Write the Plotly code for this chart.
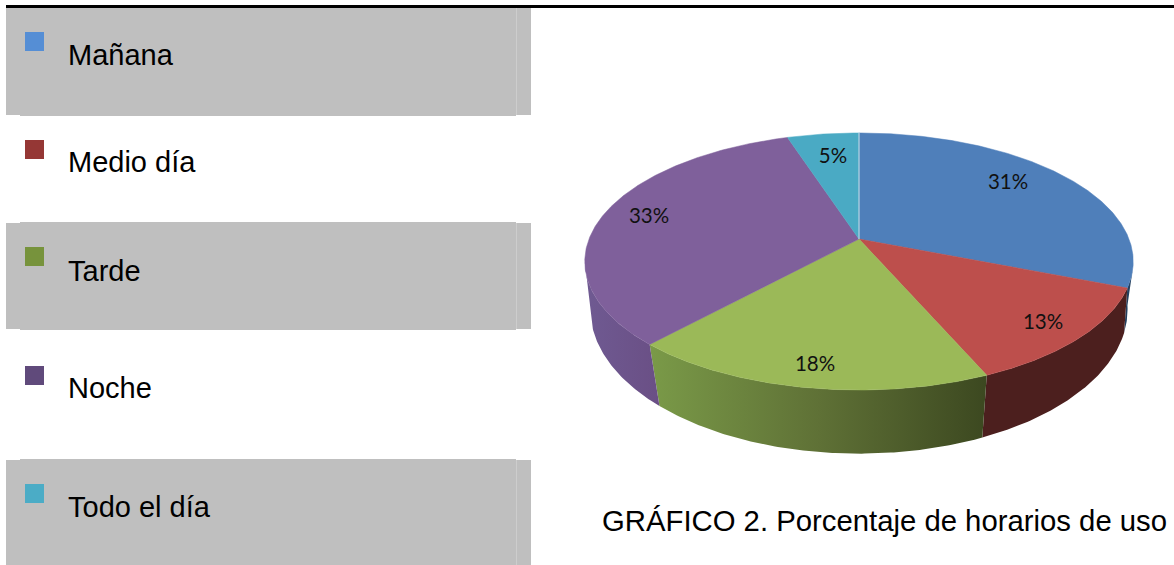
import numpy as np
import plotly.graph_objects as go

# ---- data ----
categories = ["Mañana", "Medio día", "Tarde", "Noche", "Todo el día"]
percentages = [31, 12.5, 18.3, 33.2, 5]
percent_labels = ["31%", "13%", "18%", "33%", "5%"]
caption = "GRÁFICO 2. Porcentaje de horarios de uso"

# ---- styles ----
top_colors = ["#4f7fba", "#bd4f4c", "#9bb958", "#7f609b", "#4aaac4"]
legend_colors = ["#558ed5", "#953735", "#77933c", "#604a7b", "#4bacc6"]
W, H = 1174, 565

# Perspective pie model (screen pixels): top disc and bottom rim
CX = 859
TOP = dict(cy=239, a=270, b=124.6, p=0.175)
BOT = dict(cy=278, a=262, b=137, p=0.22)
RIM_SEAM_SHIFT = [0, 0, 1.4, -3.3, 0, 0]  # seams on the drum lean slightly


def project(deg, m):
    t = np.radians(deg)
    X, Y = np.sin(t), np.cos(t)
    d = 1 + m["p"] * Y
    return CX + m["a"] * X / d, m["cy"] - m["b"] * Y / d


def arc(start, end, m):
    n = max(2, int(abs(end - start)) * 2 + 1)
    return project(np.linspace(start, end, n), m)


edges = np.concatenate([[0], np.cumsum(percentages)]) * 3.6
rim = edges + np.array(RIM_SEAM_SHIFT)
fig = go.Figure()


def side(start, end, bot_start, bot_end, **kw):
    x1, y1 = arc(start, end, TOP)
    x2, y2 = arc(bot_end, bot_start, BOT)
    fig.add_trace(go.Scatter(
        x=np.r_[x1, x2], y=np.r_[y1, y2], mode="lines", fill="toself",
        line=dict(width=0), hoverinfo="skip", showlegend=False, **kw))


# Rim (only the front of the drum is visible)
side(103, edges[1], 101, rim[1], fillcolor="#24405f")
side(edges[1], edges[2], rim[1], rim[2], fillcolor="#4c1f1e")
side(edges[2], edges[3], rim[2], rim[3], fillcolor="#5e6f35",
     fillgradient=dict(type="horizontal",
                       colorscale=[[0, "#7a9a48"], [0.5, "#5f7136"], [1, "#3c4820"]]))
side(edges[3], 260, rim[3], 257, fillcolor="#6b5287",
     fillgradient=dict(type="horizontal",
                       colorscale=[[0, "#6f5a92"], [1, "#6a4f85"]]))

# Top face
for i, name in enumerate(categories):
    xs, ys = arc(edges[i], edges[i + 1], TOP)
    fig.add_trace(go.Scatter(
        x=np.r_[CX, xs, CX], y=np.r_[TOP["cy"], ys, TOP["cy"]],
        mode="lines", fill="toself", fillcolor=top_colors[i],
        line=dict(width=0.5, color=top_colors[i]),
        name=name, hoverinfo="skip", showlegend=False))

# Pale seam where the first slice starts
x0, y0 = project(0.0, TOP)
fig.add_trace(go.Scatter(x=[CX, x0], y=[TOP["cy"], y0], mode="lines",
                         line=dict(color="#b9d3e4", width=1.2),
                         hoverinfo="skip", showlegend=False))

# Percentage labels
label_x = [1008, 1043, 815, 649, 833]
label_y = [184, 324, 366, 218, 158]
fig.add_trace(go.Scatter(
    x=label_x, y=label_y, mode="text",
    text=percent_labels,
    textposition="middle center",
    textfont=dict(family="Lato", size=20.5, color="#111111"),
    hoverinfo="skip", showlegend=False))

# Legend swatches
swatch_y = [41.5, 149.5, 256.5, 375.5, 493.5]
fig.add_trace(go.Scatter(
    x=[34.5] * 5, y=swatch_y, mode="markers",
    marker=dict(symbol="square", size=19, color=legend_colors, line=dict(width=0)),
    hoverinfo="skip", showlegend=False))

# Grey bands and top rule: an outer band with a slightly taller inner one
shapes = []
for oy0, oy1, iy0, iy1 in [(8, 115, 8, 116), (223, 329, 222, 330), (460, 565, 459, 565)]:
    shapes.append(dict(type="rect", x0=6, x1=531, y0=oy0, y1=oy1,
                       fillcolor="#bfbfbf", line_width=0, layer="below"))
    shapes.append(dict(type="rect", x0=20, x1=516, y0=iy0, y1=iy1,
                       fillcolor="#bfbfbf", line_width=0, layer="below"))
    shapes.append(dict(type="line", x0=516.5, x1=516.5, y0=oy0, y1=oy1,
                       line=dict(color="#cdcdcd", width=1), layer="below"))
shapes.append(dict(type="rect", x0=6, x1=1174, y0=5, y1=8,
                   fillcolor="#000000", line_width=0))

# Text
legend_text_y = [55, 162, 271, 388, 507]
annotations = [
    dict(x=66, y=y, text=name, xanchor="left", yanchor="middle", showarrow=False,
         font=dict(family="Liberation Sans", size=29, color="#000000"))
    for name, y in zip(categories, legend_text_y)
]
annotations.append(dict(x=884, y=520, text=caption, xanchor="center", yanchor="middle",
                        showarrow=False,
                        font=dict(family="Liberation Sans", size=29.3, color="#000000")))

fig.update_layout(
    width=W, height=H, margin=dict(l=0, r=0, t=0, b=0),
    paper_bgcolor="white", plot_bgcolor="white",
    xaxis=dict(range=[0, W], visible=False, fixedrange=True),
    yaxis=dict(range=[H, 0], visible=False, fixedrange=True),
    shapes=shapes, annotations=annotations, showlegend=False,
)
fig.write_html("out.html", config={"displayModeBar": False},
               post_script="document.body.style.margin='0';document.body.style.overflow='hidden';")
